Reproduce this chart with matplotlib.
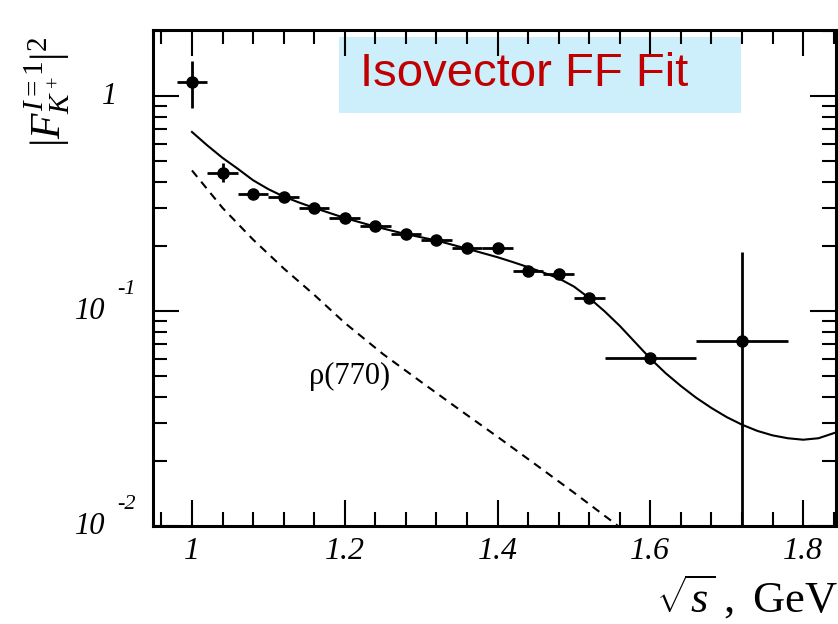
import numpy as np
import matplotlib
matplotlib.use("Agg")
import matplotlib.pyplot as plt
from matplotlib.ticker import FixedLocator, MultipleLocator, LogLocator, NullFormatter
from matplotlib.transforms import blended_transform_factory, ScaledTranslation

plt.rcParams['mathtext.fontset'] = 'custom'
plt.rcParams['mathtext.rm'] = 'Liberation Serif'
plt.rcParams['mathtext.it'] = 'Liberation Serif:italic'
plt.rcParams['mathtext.bf'] = 'Liberation Serif:bold'

# data points (sqrt(s) in GeV, |F|^2)
pt_x = [1.00, 1.04, 1.08, 1.12, 1.16, 1.20, 1.24, 1.28, 1.32, 1.36, 1.40, 1.44, 1.48, 1.52, 1.60, 1.72]
pt_y = [1.16, 0.441, 0.352, 0.341, 0.303, 0.272, 0.249, 0.229, 0.215, 0.197, 0.197, 0.154, 0.149, 0.115, 0.0603, 0.0724]
pt_xerr = [0.02] * 14 + [0.06, 0.06]
pt_ylo = [0.28, 0.044, 0.012, 0.010, 0.009, 0.008, 0.007, 0.007, 0.006, 0.006, 0.006, 0.006, 0.006, 0.006, 0.0035, 0.0674]
pt_yhi = [0.30, 0.046, 0.012, 0.010, 0.009, 0.008, 0.007, 0.007, 0.006, 0.006, 0.006, 0.006, 0.006, 0.006, 0.0035, 0.115]

# fit curve
fit_x = [1.00, 1.02, 1.04, 1.06, 1.08, 1.10, 1.12, 1.14, 1.16, 1.20, 1.24, 1.28, 1.32, 1.36, 1.40,
         1.42, 1.44, 1.46, 1.48, 1.50, 1.52, 1.54, 1.56, 1.58, 1.60, 1.62, 1.64, 1.66, 1.68, 1.70,
         1.72, 1.74, 1.76, 1.78, 1.80, 1.82, 1.845]
fit_y = [0.681, 0.590, 0.516, 0.459, 0.406, 0.369, 0.341, 0.320, 0.302, 0.271, 0.247, 0.228, 0.213, 0.195, 0.178,
         0.169, 0.160, 0.151, 0.142, 0.130, 0.115, 0.0998, 0.0853, 0.0716, 0.0601, 0.0514, 0.0448, 0.0395, 0.0354, 0.0321,
         0.0296, 0.0277, 0.0264, 0.0256, 0.0252, 0.0256, 0.0274]

# rho(770) contribution
rho_x = [1.00, 1.04, 1.08, 1.12, 1.16, 1.20, 1.25, 1.30, 1.35, 1.40, 1.45, 1.50, 1.55, 1.58]
rho_y = [0.451, 0.302, 0.215, 0.158, 0.119, 0.0881, 0.0631, 0.0468, 0.0348, 0.0260, 0.0193, 0.0143, 0.0105, 0.0087]

# y tick labels: (value, base, exponent)
ylab_vals = [1.0, 0.1, 0.01]
ylab_base = ['1', '10', '10']
ylab_exp = ['', '-1', '-2']

fig = plt.figure(figsize=(8.38, 6.24), dpi=100)
ax = fig.add_axes([153/838, 1 - 526/624, (836 - 153)/838, (526 - 30)/624])

ax.plot(fit_x, fit_y, color='black', lw=1.5)
ax.plot(rho_x, rho_y, color='black', lw=1.5, ls=(0, (4, 3)))
ax.errorbar(pt_x, pt_y, xerr=pt_xerr, yerr=[pt_ylo, pt_yhi], fmt='o', color='black',
            ms=8, elinewidth=2, capsize=0)

ax.set_yscale('log')
ax.set_xlim(0.949, 1.843)
ax.set_ylim(0.01, 2.03)

ax.xaxis.set_major_locator(FixedLocator([1.0, 1.2, 1.4, 1.6, 1.8]))
ax.xaxis.set_minor_locator(MultipleLocator(0.04))
ax.set_xticklabels(['1', '1.2', '1.4', '1.6', '1.8'], family='Liberation Serif', style='italic', fontsize=23)

ax.yaxis.set_major_locator(FixedLocator(ylab_vals))
ax.yaxis.set_minor_locator(LogLocator(base=10, subs=np.arange(2, 10)))
ax.yaxis.set_minor_formatter(NullFormatter())
ax.set_yticklabels([''] * len(ylab_vals))

# hand-built y labels: italic base with raised exponent
ytr = blended_transform_factory(ax.transAxes, ax.transData)
sup = ytr + ScaledTranslation(0, 0.22, fig.dpi_scale_trans)
for v, b, e in zip(ylab_vals, ylab_base, ylab_exp):
    if e:
        ax.text(-0.070, v, b, transform=ytr, fontsize=22, family='Liberation Serif', style='italic',
                ha='right', va='center')
        ax.text(-0.052, v, e, transform=sup, fontsize=16, family='Liberation Serif', style='italic',
                ha='left', va='center')
    else:
        ax.text(-0.052, v, b, transform=ytr, fontsize=22, family='Liberation Serif', style='italic',
                ha='right', va='center')

ax.tick_params(which='both', direction='in', top=True, right=True, width=1.5)
ax.tick_params(which='major', length=19)
ax.tick_params(which='minor', length=10)
ax.tick_params(axis='x', pad=8)
for s in ax.spines.values():
    s.set_linewidth(2.2)

fig.text(47/838, 1 - 92/624, r'$|F^{I=1}_{K^+}|^2$', fontsize=30, rotation=90, ha='center', va='center')
fig.text(0.999, 0.004, r'$\sqrt{s}\ ,\ \mathrm{GeV}$', fontsize=32, ha='right', va='bottom')

ax.text(1.2065, 0.0497, 'ρ(770)', fontsize=22, family='Liberation Serif', ha='center', va='center')

ax.add_patch(plt.Rectangle((0.273, 0.833), 0.588, 0.153, transform=ax.transAxes,
                           facecolor='#cdeefb', edgecolor='none', zorder=1))
ax.text(0.303, 0.912, 'Isovector FF Fit', transform=ax.transAxes, fontsize=34,
        family='Liberation Sans', color='#c00000', ha='left', va='center', zorder=2)

fig.savefig('out.png', dpi=100)
